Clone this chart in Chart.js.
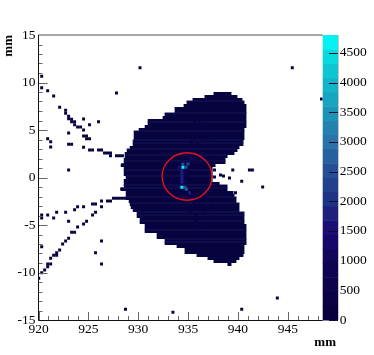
<!DOCTYPE html>
<html>
<head>
<meta charset="utf-8">
<title>mm</title>
<script src="https://cdn.jsdelivr.net/npm/chart.js@4"></script>
<style>
    html, body { margin: 0; padding: 0; background: #fff; }
    canvas { display: block; }
</style>
</head>
<body>
<canvas id="hitmap" width="374" height="355"></canvas>
<script>
// body of the hit map, one row per y bin: y centre, left edge, right edge (mm)
const rowY = [8.84, 8.53, 8.21, 7.89, 7.58, 7.26, 6.95, 6.63, 6.32, 6.00, 5.68, 5.37, 5.05, 4.74, 4.42, 4.11, 3.79, 3.47, 3.16, 2.84,
    2.53, 2.21, 1.89, 1.58, 1.26, 0.95, 0.63, 0.32, 0.00, -0.32, -0.63, -0.95, -1.26, -1.58, -1.89, -2.21, -2.53, -2.84, -3.16, -3.47,
    -3.79, -4.11, -4.42, -4.74, -5.05, -5.37, -5.68, -6.00, -6.32, -6.63, -6.95, -7.26, -7.58, -7.89, -8.21, -8.53, -8.84, -9.16];
const rowLeft = [937.55, 936.65, 935.45, 934.85, 934.55, 933.65, 933.65, 932.65, 932.45, 930.95, 930.95, 930.65, 930.05, 929.55, 929.55, 929.55, 929.45, 929.45, 929.15, 928.85,
    928.65, 928.65, 928.55, 928.55, 928.25, 928.55, 928.55, 928.55, 928.75, 928.55, 928.55, 928.55, 928.25, 928.75, 928.75, 928.75, 929.05, 929.15, 929.25, 929.45,
    929.85, 929.85, 930.15, 930.15, 930.65, 930.65, 930.65, 931.85, 931.85, 932.65, 932.65, 933.85, 934.65, 934.65, 935.85, 936.95, 937.55, 938.95];
const rowRight = [939.35, 939.95, 940.45, 940.65, 940.85, 940.85, 940.85, 940.85, 940.85, 940.85, 940.85, 940.85, 940.65, 940.65, 940.65, 940.65, 940.55, 940.55, 940.15, 939.95,
    939.65, 938.95, 938.75, 938.75, 937.75, 937.45, 937.45, 937.45, 937.45, 937.45, 938.15, 938.95, 938.95, 939.55, 939.65, 939.85, 939.85, 940.15, 940.15, 940.15,
    940.65, 940.65, 940.65, 940.65, 940.85, 940.85, 940.85, 940.85, 940.85, 940.85, 940.85, 940.65, 940.65, 940.65, 940.55, 940.15, 939.85, 939.35];

// rows whose upper edge shows a slightly lighter line
const seamRows = [3, 7, 10, 13, 16, 17, 19, 21, 23, 26, 28, 31, 32, 35, 37, 40, 41, 43, 46, 49, 50];

// isolated low count bins
const strayX = [920.32, 920.32, 920.92, 921.52, 922.12, 922.72, 922.72, 923.02, 923.02, 923.32, 923.32, 923.62, 923.62, 923.92, 924.22, 924.52, 925.12, 926.02, 927.82, 924.52,
    923.02, 924.52, 924.82, 924.82, 925.12, 920.92, 921.22, 921.22, 923.02, 923.32, 924.52, 925.12, 925.42, 926.02, 926.32, 926.62, 926.92, 927.22, 927.22, 927.82,
    928.12, 928.42, 923.02, 928.42, 920.32, 920.32, 920.92, 921.52, 921.82, 922.72, 923.62, 923.92, 924.52, 925.42, 925.72, 926.32, 926.92, 927.22, 927.52, 927.82,
    928.12, 928.42, 928.72, 926.32, 925.72, 925.42, 924.82, 924.52, 923.92, 923.02, 923.32, 923.62, 923.02, 922.72, 922.42, 922.12, 921.82, 921.82, 921.52, 921.22,
    921.22, 920.92, 920.92, 920.62, 920.32, 920.02, 920.32, 926.32, 925.72, 926.32, 928.72, 928.35, 930.18, 945.45, 948.38, 933.48, 940.38, 943.95, 939.48, 941.15,
    941.45, 937.65, 937.65, 938.25, 938.55, 939.15, 940.38, 942.48, 939.75, 937.98];
const strayY = [10.65, 9.45, 9.14, 8.58, 7.39, 7.07, 6.76, 6.44, 6.19, 6.13, 5.87, 5.87, 5.56, 5.32, 5.32, 6.16, 5.56, 5.87, 8.89, 5.00,
    4.68, 4.37, 4.37, 4.08, 4.08, 4.08, 3.77, 3.21, 3.49, 3.49, 3.18, 2.89, 2.89, 2.89, 2.89, 2.58, 2.58, 2.58, 2.29, 2.29,
    2.29, 2.29, 0.79, 1.35, -3.95, -4.26, -3.95, -4.26, -3.66, -3.66, -3.39, -3.07, -3.07, -2.79, -2.79, -2.47, -2.47, -2.47, -2.19, -2.19,
    -2.19, -2.19, -2.19, -3.07, -3.66, -3.95, -4.61, -4.89, -5.21, -4.61, -5.77, -5.77, -6.40, -6.69, -7.00, -7.63, -7.92, -8.19, -8.19, -8.51,
    -9.10, -9.10, -9.39, -9.74, -10.02, -10.61, -7.28, -6.69, -7.92, -9.10, -13.87, -1.21, 11.56, 11.56, 8.26, -14.19, -13.87, -12.68, 0.79, 0.79,
    0.79, 0.79, 0.05, 0.26, 0.16, -0.05, -0.40, -1.00, -1.60, -0.68];

// bins above the flat body level: x, y (mm) and content, faint ones first so the core stays on top
const cellX = [935.65, 936.15, 935.82, 936.15, 935.65, 935.98, 935.32, 935.65, 936.32, 936.82, 937.65, 938.48, 934.98, 935.48,
    935.98, 936.65, 937.48, 935.15, 935.65, 936.48, 937.48, 935.48, 935.98, 936.65, 936.15, 935.65, 937.48, 935.48, 936.15, 936.82, 935.15, 935.82, 936.65, 937.48,
    938.48, 935.82, 936.15, 936.32, 935.48, 935.98, 936.48,
    935.15, 935.45, 934.98, 934.98, 934.98, 933.78, 933.78, 935.28, 935.28, 935.60, 934.98, 935.00, 935.75,
    934.68, 934.68, 934.68, 934.68, 934.68, 934.08, 934.08, 934.08, 934.08, 934.08, 935.32, 935.45, 934.98,
    934.38, 934.38, 934.38, 934.38, 934.38, 934.78, 934.48, 934.98, 935.15, 934.68, 934.82,
    934.48, 934.38];
const cellY = [5.87, 5.87, 5.18, 5.18, 4.47, 4.47, 3.77, 4.13, 4.13, 4.13, 4.13, 4.47, 3.24, 3.42,
    3.60, 3.24, 2.71, 2.71, 2.71, 2.71, 2.19, 1.84, 1.84, 2.02, 1.32, 1.32, -2.55, -2.89, -3.07, -3.24, -3.60, -3.95, -3.77, -3.42,
    -4.30, -4.65, -5.70, -5.00, -2.37, -2.19, -2.02,
    2.37, -2.19, 0.79, 0.16, -0.47, 0.47, -0.47, 1.42, -1.90, 2.37, 2.05, -1.90, -2.20,
    0.79, 0.47, 0.16, -0.16, -0.47, 1.07, 0.47, -0.16, -1.03, -1.60, 1.95, -1.90, 1.42,
    0.79, 0.47, 0.16, -0.16, -0.47, 1.07, 1.40, 1.42, -1.60, -1.03, -1.24,
    1.07, -1.03];
const cellZ = [250, 250, 250, 250, 250, 250, 250, 250, 250, 250, 250, 250, 300, 300,
    300, 250, 250, 350, 350, 250, 250, 400, 350, 250, 350, 350, 250, 300, 300, 250, 250, 250, 250, 250,
    250, 250, 250, 250, 350, 350, 300,
    500, 500, 500, 500, 500, 350, 350, 600, 600, 350, 400, 500, 400,
    800, 700, 700, 700, 800, 1500, 500, 500, 1300, 500, 1300, 900, 1900,
    1900, 1800, 1700, 1700, 1800, 2600, 2600, 2200, 1800, 2500, 2800,
    4700, 4600];

// palette of the colour bar, value then colour, and its number of bands
const paletteValues = [0, 500, 1000, 1500, 2000, 2500, 3000, 3500, 4000, 4500, 4800];
const paletteColors = ['#05003a', '#0a0348', '#0e0556', '#1a0a72', '#1f3082', '#244c94', '#2a72a8', '#1c94b6', '#14b6ca', '#06dede', '#00ffff'];
const paletteBands = 20;
const zTicks = [0, 500, 1000, 1500, 2000, 2500, 3000, 3500, 4000, 4500];

const zMax = 4800;
const xMin = 920;
const xMax = 948.5;
const yMin = -15;
const yMax = 15;
const circleX = 934.9;
const circleY = 0.1;
const circleR = 2.5;
const axisTitle = 'mm';
const bodyColor = '#07033f';
const seamColor = '#191658';
const serif = '"Liberation Serif", "Times New Roman", serif';

function hexToRgb(hex) {
    return [1, 3, 5].map((i) => parseInt(hex.slice(i, i + 2), 16));
}

function paletteColor(value) {
    // stepped like the colour bar
    const step = zMax / paletteBands;
    const v = Math.min(Math.floor(value / step) + 0.5, paletteBands) * step;
    let i = 0;
    while (i < paletteValues.length - 2 && v > paletteValues[i + 1]) i += 1;
    const t = Math.min(1, (v - paletteValues[i]) / (paletteValues[i + 1] - paletteValues[i]));
    const a = hexToRgb(paletteColors[i]);
    const b = hexToRgb(paletteColors[i + 1]);
    const rgb = a.map((c, k) => Math.round(c + (b[k] - c) * t));
    return `rgb(${rgb[0]},${rgb[1]},${rgb[2]})`;
}

const frame = {
    id: 'frame',
    afterDatasetsDraw(chart) {
        const { ctx, chartArea: area, scales } = chart;
        const x = scales.x;
        const y = scales.y;
        const z = scales.z;
        ctx.save();

        // colour bar
        const barLeft = area.right;
        const barRight = 338;
        const step = zMax / paletteBands;
        for (let i = 0; i < paletteBands; i += 1) {
            const top = z.getPixelForValue((i + 1) * step);
            const bottom = z.getPixelForValue(i * step);
            ctx.fillStyle = paletteColor(i * step);
            ctx.fillRect(barLeft, top, barRight - barLeft, bottom - top + 0.5);
        }
        ctx.strokeStyle = '#c8c8c8';
        ctx.lineWidth = 1;
        ctx.beginPath();
        ctx.moveTo(barRight + 0.5, area.top);
        ctx.lineTo(barRight + 0.5, area.bottom);
        ctx.stroke();
        ctx.strokeStyle = '#0a1030';
        zTicks.forEach((value) => {
            const py = Math.round(z.getPixelForValue(value)) + 0.5;
            ctx.beginPath();
            ctx.moveTo(barRight - 9, py);
            ctx.lineTo(barRight, py);
            ctx.stroke();
        });

        // ring around the core
        const cx = x.getPixelForValue(circleX);
        const cy = y.getPixelForValue(circleY);
        const rx = x.getPixelForValue(circleX + circleR) - cx;
        const ry = cy - y.getPixelForValue(circleY + circleR);
        ctx.strokeStyle = '#e8101e';
        ctx.lineWidth = 1.4;
        ctx.beginPath();
        ctx.ellipse(cx, cy, rx, ry, 0, 0, Math.PI * 2);
        ctx.stroke();

        // ticks point into the plot
        ctx.lineWidth = 1;
        ctx.strokeStyle = '#666';
        x.ticks.forEach((tick) => {
            const px = Math.round(x.getPixelForValue(tick.value)) + 0.5;
            const len = tick.value % 5 === 0 ? 8 : 4;
            ctx.beginPath();
            ctx.moveTo(px, area.bottom);
            ctx.lineTo(px, area.bottom - len);
            ctx.stroke();
        });
        y.ticks.forEach((tick) => {
            const py = Math.round(y.getPixelForValue(tick.value)) + 0.5;
            const len = tick.value % 5 === 0 ? 9 : 4;
            ctx.beginPath();
            ctx.moveTo(area.left, py);
            ctx.lineTo(area.left + len, py);
            ctx.stroke();
        });

        // frame
        ctx.strokeStyle = '#a8a8a8';
        ctx.lineWidth = 2;
        ctx.beginPath();
        ctx.moveTo(area.left, area.top);
        ctx.lineTo(area.right, area.top);
        ctx.stroke();
        ctx.strokeStyle = '#111';
        ctx.lineWidth = 1;
        ctx.beginPath();
        ctx.moveTo(area.left, area.top);
        ctx.lineTo(area.left, area.bottom + 0.5);
        ctx.lineTo(area.right, area.bottom + 0.5);
        ctx.stroke();

        // axis titles
        ctx.fillStyle = '#000';
        ctx.font = `bold 13px ${serif}`;
        ctx.textAlign = 'right';
        ctx.textBaseline = 'middle';
        ctx.fillText(axisTitle, 336, 343);
        ctx.translate(9, 35);
        ctx.rotate(-Math.PI / 2);
        ctx.fillText(axisTitle, 0, 0);
        ctx.restore();
    }
};

const tickFont = { family: serif, size: 13.5 };

new Chart(document.getElementById('hitmap'), {
    type: 'bar',
    data: {
        datasets: [
            {
                type: 'scatter',
                order: 1,
                data: strayX.map((x, i) => ({ x, y: strayY[i] })),
                pointStyle: 'rect',
                pointRadius: 2.1,
                borderWidth: 0,
                backgroundColor: bodyColor
            },
            {
                type: 'scatter',
                order: 2,
                data: cellX.map((x, i) => ({ x, y: cellY[i], z: cellZ[i] })),
                pointStyle: 'rect',
                pointRadius: 2.1,
                borderWidth: 0,
                backgroundColor: (c) => paletteColor(c.raw ? c.raw.z : 0)
            },
            {
                indexAxis: 'y',
                order: 3,
                data: seamRows.map((r) => ({ y: rowY[r] + 0.158, x: [rowLeft[r], rowRight[r]] })),
                backgroundColor: seamColor,
                barThickness: 1,
                grouped: false,
                inflateAmount: 0
            },
            {
                indexAxis: 'y',
                order: 4,
                data: rowY.map((y, i) => ({ y, x: [rowLeft[i], rowRight[i]] })),
                backgroundColor: bodyColor,
                barThickness: 3.1,
                grouped: false,
                inflateAmount: 0
            }
        ]
    },
    options: {
        responsive: false,
        animation: false,
        layout: { padding: { top: 35, left: 0, right: 0, bottom: 0 } },
        plugins: { legend: { display: false }, tooltip: { enabled: false } },
        scales: {
            x: {
                type: 'linear',
                offset: false,
                min: xMin,
                max: xMax,
                grid: { display: false, drawTicks: false },
                border: { display: false },
                afterFit: (scale) => { scale.height = 35; },
                ticks: {
                    stepSize: 1,
                    includeBounds: false,
                    autoSkip: false,
                    maxRotation: 0,
                    padding: 1,
                    color: '#000',
                    font: tickFont,
                    callback: (v) => (v % 5 === 0 ? String(v) : '')
                }
            },
            y: {
                type: 'linear',
                offset: false,
                min: yMin,
                max: yMax,
                grid: { display: false, drawTicks: false },
                border: { display: false },
                afterFit: (scale) => { scale.width = 38.5; },
                ticks: {
                    stepSize: 1,
                    includeBounds: false,
                    autoSkip: false,
                    padding: 3,
                    color: '#000',
                    font: tickFont,
                    callback: (v) => (v % 5 === 0 ? String(v) : '')
                }
            },
            z: {
                type: 'linear',
                position: 'right',
                offset: false,
                min: 0,
                max: zMax,
                grid: { display: false, drawTicks: false },
                border: { display: false },
                afterFit: (scale) => { scale.width = 51.3; },
                afterBuildTicks: (scale) => { scale.ticks = zTicks.map((value) => ({ value })); },
                ticks: {
                    padding: 17,
                    color: '#000',
                    font: tickFont,
                    callback: (v) => String(v)
                }
            }
        }
    },
    plugins: [frame]
});
</script>
</body>
</html>
